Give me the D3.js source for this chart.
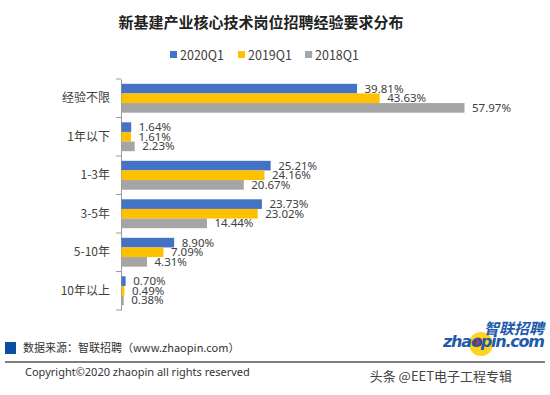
<!DOCTYPE html>
<html lang="zh">
<head>
<meta charset="UTF-8">
<title>新基建产业核心技术岗位招聘经验要求分布</title>
<script src="https://cdn.jsdelivr.net/npm/d3@7/dist/d3.min.js"></script>
<style>
    body { margin: 0; background: #fff; }
    svg { display: block; font-family: "Noto Sans CJK SC", "Noto Sans", sans-serif; }
</style>
</head>
<body>
<script>
    // 数据
    const categories = ['经验不限', '1年以下', '1-3年', '3-5年', '5-10年', '10年以上'];
    const seriesNames = ['2020Q1', '2019Q1', '2018Q1'];
    const v2020 = [39.81, 1.64, 25.21, 23.73, 8.90, 0.70];
    const v2019 = [43.63, 1.61, 24.16, 23.02, 7.09, 0.49];
    const v2018 = [57.97, 2.23, 20.67, 14.44, 4.31, 0.38];
    const colors = ['#4472C4', '#FFC000', '#A5A5A5'];

    const width = 550, height = 395;
    const svg = d3.select('body').append('svg')
        .attr('width', width).attr('height', height);

    const series = [v2020, v2019, v2018];

    // 标题
    svg.append('text')
        .attr('x', 261).attr('y', 28)
        .attr('text-anchor', 'middle')
        .attr('font-size', 15).attr('font-weight', 'bold')
        .attr('fill', '#222')
        .text('新基建产业核心技术岗位招聘经验要求分布');

    // 图例
    const legendX = [170, 238, 305];
    const legend = svg.append('g').selectAll('g')
        .data(seriesNames).enter().append('g')
        .attr('transform', (d, i) => `translate(${legendX[i]},55)`);
    legend.append('rect')
        .attr('x', 0).attr('y', -4).attr('width', 7).attr('height', 7)
        .attr('fill', (d, i) => colors[i]);
    legend.append('text')
        .attr('x', 10).attr('y', 4.5)
        .attr('font-size', 12.5).attr('fill', '#404040')
        .text(d => d);

    // 比例尺
    const y = d3.scaleBand().domain(categories).range([79, 310]).paddingInner(0.25).paddingOuter(0.125);
    const yInner = d3.scaleBand().domain(d3.range(3)).range([0, y.bandwidth()]);
    const x = d3.scaleLinear().domain([0, 60]).range([121, 476]);

    // 轴
    const axisY = d3.scaleBand().domain(categories).range([79, 310]);
    const yAxis = svg.append('g')
        .attr('transform', 'translate(121,0)')
        .call(d3.axisLeft(axisY).tickSize(0).tickPadding(11));
    yAxis.select('.domain').attr('stroke', '#9a9a9a');
    yAxis.selectAll('text').attr('font-size', 12).attr('fill', '#404040')
        .attr('font-family', '"Noto Sans CJK SC", sans-serif');
    // 分隔刻度
    const tickPos = [79].concat(categories.map(c => axisY(c) + axisY.bandwidth()));
    svg.append('g').selectAll('line').data(tickPos).enter().append('line')
        .attr('x1', 116).attr('x2', 121)
        .attr('y1', d => d).attr('y2', d => d)
        .attr('stroke', '#9a9a9a');

    // 柱
    const groups = svg.append('g').selectAll('g')
        .data(categories).enter().append('g')
        .attr('transform', c => `translate(0,${y(c)})`);

    groups.selectAll('rect')
        .data((c, ci) => series.map((s, si) => ({si: si, v: s[ci]})))
        .enter().append('rect')
        .attr('x', x(0) + 0.5)
        .attr('y', d => yInner(d.si))
        .attr('width', d => x(d.v) - x(0))
        .attr('height', yInner.bandwidth())
        .attr('fill', d => colors[d.si]);

    groups.selectAll('text')
        .data((c, ci) => series.map((s, si) => ({si: si, v: s[ci]})))
        .enter().append('text')
        .attr('x', d => x(d.v) + 8)
        .attr('y', d => yInner(d.si) + yInner.bandwidth() / 2 + 4)
        .attr('font-size', 11.5).attr('fill', '#404040')
        .attr('font-family', '"Noto Sans", sans-serif')
        .text(d => d.v.toFixed(2) + '%');

    // 标志
    svg.append('circle').attr('cx', 481).attr('cy', 344).attr('r', 12).attr('fill', '#FFD320');
    svg.append('circle').attr('cx', 478).attr('cy', 342).attr('r', 4.5).attr('fill', '#D42A1E');
    svg.append('text')
        .attr('x', 544).attr('y', 334).attr('text-anchor', 'end')
        .attr('font-size', 15).attr('font-style', 'italic').attr('font-weight', 'bold')
        .attr('fill', '#1E5AAE')
        .text('智联招聘');
    svg.append('text')
        .attr('x', 545).attr('y', 347).attr('text-anchor', 'end')
        .attr('font-size', 16).attr('font-style', 'italic').attr('font-weight', 'bold')
        .attr('font-family', '"DejaVu Sans", sans-serif')
        .attr('fill', '#1E5AAE')
        .attr('textLength', 102)
        .text('zhaopin.com');

    // 页脚
    svg.append('rect').attr('x', 5).attr('y', 342).attr('width', 11).attr('height', 12).attr('fill', '#0B4DA2');
    svg.append('text')
        .attr('x', 23).attr('y', 352)
        .attr('font-size', 11).attr('fill', '#333')
        .text('数据来源：智联招聘（www.zhaopin.com）');
    svg.append('line')
        .attr('x1', 5).attr('x2', 545).attr('y1', 362).attr('y2', 362)
        .attr('stroke', '#555').attr('stroke-width', 1.5);
    svg.append('text')
        .attr('x', 25).attr('y', 376)
        .attr('font-size', 11).attr('fill', '#333')
        .attr('font-family', '"Noto Sans", sans-serif')
        .text('Copyright©2020 zhaopin all rights reserved');
    svg.append('text')
        .attr('x', 512).attr('y', 381).attr('text-anchor', 'end')
        .attr('font-size', 13).attr('fill', '#444')
        .text('头条 @EET电子工程专辑');
</script>
</body>
</html>
